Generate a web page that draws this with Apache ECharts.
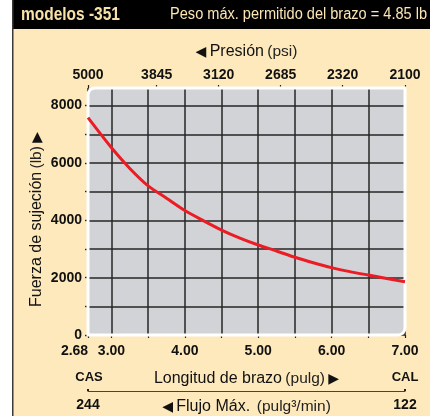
<!DOCTYPE html>
<html>
<head>
<meta charset="utf-8">
<script src="https://cdn.jsdelivr.net/npm/echarts@6/dist/echarts.min.js"></script>
<style>
  html, body { margin: 0; padding: 0; background: #ffffff; }
  #chart { width: 430px; height: 416px; }
</style>
</head>
<body>
<div id="chart"></div>
<script>
// Clamp force vs. arm length for the -351 models
const armLength  = [2.68, 3.0, 3.25, 3.5, 3.75, 4.0, 4.25, 4.5, 4.75, 5.0, 5.25, 5.5, 5.75, 6.0, 6.25, 6.5, 6.75, 7.0];
const clampForce = [7580, 6530, 5810, 5200, 4770, 4340, 3990, 3660, 3380, 3140, 2930, 2710, 2520, 2350, 2210, 2090, 1970, 1860];

// Bottom axis (arm length, in)
const lengthRange  = [2.68, 7.0];
const lengthTicks  = [2.68, 3.0, 3.5, 4.0, 4.5, 5.0, 5.5, 6.0, 6.5, 7.0];
const lengthLabels = [2.68, 3.0, 4.0, 5.0, 6.0, 7.0];

// Top axis (pressure, psi) and the arm length each pressure sits at
const pressureLabels   = ['5000', '3845', '3120', '2685', '2320', '2100'];
const pressureAtLength = [2.68, 3.616, 4.461, 5.306, 6.15, 7.0];

// Flow axis (in^3/min), CAS end to CAL end
const flowEnds   = [244, 122];
const flowEndTag = ['CAS', 'CAL'];

// Force axis (lb)
const forceMax    = 8615;
const forceTicks  = [0, 1000, 2000, 3000, 4000, 5000, 6000, 7000, 8000];
const forceLabels = [0, 2000, 4000, 6000, 8000];

const headerModel = 'modelos -351';
const headerNote  = 'Peso máx. permitido del brazo = 4.85 lb';

const SANS  = "'Liberation Sans', Arial, sans-serif";
const ARROW = "'DejaVu Sans', sans-serif";
const INK = '#111111';
const CREAM = '#fde9bb';

const chart = echarts.init(document.getElementById('chart'), null, { renderer: 'canvas' });

const numLabel = {
  color: INK, fontFamily: SANS, fontWeight: 'bold', fontSize: 14
};
const nameRich = {
  b: { fontFamily: SANS, fontSize: 16, color: INK },
  l: { fontFamily: SANS, fontSize: 15.5, color: '#222' },
  t: { fontFamily: ARROW, fontSize: 14, color: INK }
};

const option = {
  backgroundColor: CREAM,
  animation: false,
  grid: { left: 88, right: 25, top: 88, bottom: 81, containLabel: false, outerBoundsMode: 'none' },
  xAxis: [
    {
      type: 'value', position: 'bottom', min: lengthRange[0], max: lengthRange[1],
      axisLine: { show: false },
      axisTick: { show: true, customValues: lengthTicks, length: 3, lineStyle: { color: '#222', width: 1.2 } },
      splitLine: { show: true, lineStyle: { color: '#262626', width: 1.5 } },
      axisLabel: Object.assign({}, numLabel, {
        customValues: lengthLabels, margin: 9, hideOverlap: false,
        formatter: v => Math.abs(v - lengthRange[0]) < 1e-6 ? '{first|' + v.toFixed(2) + '}' : v.toFixed(2),
        rich: { first: Object.assign({}, numLabel, { padding: [0, 27, 0, 0] }) }
      }),
      name: '{b|Longitud de brazo} {l|(pulg)} {t|▶}',
      nameLocation: 'middle', nameGap: 36, nameMoveOverlap: false,
      nameTextStyle: { rich: nameRich }
    },
    {
      type: 'value', position: 'top', min: lengthRange[0], max: lengthRange[1],
      axisLine: { show: false },
      axisTick: { show: true, customValues: pressureAtLength, length: 3, lineStyle: { color: '#222', width: 1.2 } },
      splitLine: { show: false },
      axisLabel: Object.assign({}, numLabel, {
        customValues: pressureAtLength, margin: 6, hideOverlap: false,
        formatter: v => {
          const i = pressureAtLength.findIndex(p => Math.abs(p - v) < 1e-6);
          return i >= 0 ? pressureLabels[i] : '';
        }
      }),
      name: '{t|◀} {b|Presión} {l|(psi)}',
      nameLocation: 'middle', nameGap: 28, nameMoveOverlap: false,
      nameTextStyle: { rich: nameRich }
    },
    {
      type: 'value', position: 'bottom', offset: 56, min: Math.min(...flowEnds), max: Math.max(...flowEnds),
      inverse: flowEnds[0] > flowEnds[1],
      axisLine: { show: true, lineStyle: { color: '#444', width: 1.2 } },
      axisTick: { show: true, customValues: flowEnds, length: 2, inside: true, lineStyle: { color: '#222', width: 2 } },
      splitLine: { show: false },
      axisLabel: Object.assign({}, numLabel, { customValues: flowEnds, margin: 7, hideOverlap: false }),
      name: '{t|◀} {b|Flujo Máx.}  {l|(pulg³/min)}',
      nameLocation: 'middle', nameGap: 8, nameMoveOverlap: false,
      nameTextStyle: { rich: nameRich }
    }
  ],
  yAxis: {
    type: 'value', min: 0, max: forceMax,
    axisLine: { show: false },
    axisTick: { show: true, customValues: forceTicks, length: 3, lineStyle: { color: '#222', width: 1.4 } },
    splitLine: { show: true, lineStyle: { color: '#262626', width: 1.5 } },
    axisLabel: Object.assign({}, numLabel, {
      customValues: forceLabels, margin: 6, hideOverlap: false,
      formatter: v => String(v)
    }),
    name: '{b|Fuerza de sujeción} {l|(lb)} {t|▶}',
    nameLocation: 'middle', nameGap: 43, nameRotate: 90, nameMoveOverlap: false,
    nameTextStyle: { rich: nameRich, padding: [0, 16, 0, 0] }
  },
  series: [{
    type: 'line',
    xAxisIndex: 0, yAxisIndex: 0,
    data: armLength.map((x, i) => [x, clampForce[i]]),
    showSymbol: false, smooth: 0.25,
    lineStyle: { color: '#ec1c24', width: 3 },
    z: 3
  }]
};

chart.setOption(option);

// Decorations laid out from the grid's own pixel extents
const tl = chart.convertToPixel({ xAxisIndex: 0, yAxisIndex: 0 }, [lengthRange[0], forceMax]);
const br = chart.convertToPixel({ xAxisIndex: 0, yAxisIndex: 0 }, [lengthRange[1], 0]);
const W = chart.getWidth(), H = chart.getHeight();
const tagY = br[1] + 42;

chart.setOption({
  graphic: [
    { type: 'rect', z: -20, shape: { x: 0, y: 0, width: 12, height: H }, style: { fill: '#ffffff' } },
    { type: 'rect', z: -20, shape: { x: 12, y: 0, width: W - 12, height: 29 }, style: { fill: '#000000' } },
    { type: 'line', z: -19, shape: { x1: 12.75, y1: 0, x2: 12.75, y2: H }, style: { stroke: '#3a3a3a', lineWidth: 1.5 } },
    { type: 'text', z: -18, x: 21, y: 15, scaleX: 0.86, style: { text: headerModel, fill: '#f9e2a8', font: "bold 18px " + SANS, textVerticalAlign: 'middle', textAlign: 'left' } },
    { type: 'text', z: -18, x: 427, y: 15, scaleX: 0.91, style: { text: headerNote, fill: '#fbe6b4', font: "16px " + SANS, textVerticalAlign: 'middle', textAlign: 'right' } },
    // plot panel: grey fill behind the grid lines, white rounded frame above them
    { type: 'rect', z: -10, shape: { x: tl[0], y: tl[1], width: br[0] - tl[0], height: br[1] - tl[1], r: [7, 0, 7, 0] }, style: { fill: '#d1d3d6' } },
    { type: 'rect', z: 1, shape: { x: tl[0], y: tl[1], width: br[0] - tl[0], height: br[1] - tl[1], r: [7, 0, 7, 0] }, style: { fill: null, stroke: '#ffffff', lineWidth: 3 } },
    { type: 'text', z: 1, x: tl[0] + 1, y: tagY, style: { text: flowEndTag[0], fill: INK, font: "bold 13px " + SANS, textAlign: 'center', textVerticalAlign: 'middle' } },
    { type: 'text', z: 1, x: br[0], y: tagY, style: { text: flowEndTag[1], fill: INK, font: "bold 13px " + SANS, textAlign: 'center', textVerticalAlign: 'middle' } }
  ]
});
</script>
</body>
</html>
